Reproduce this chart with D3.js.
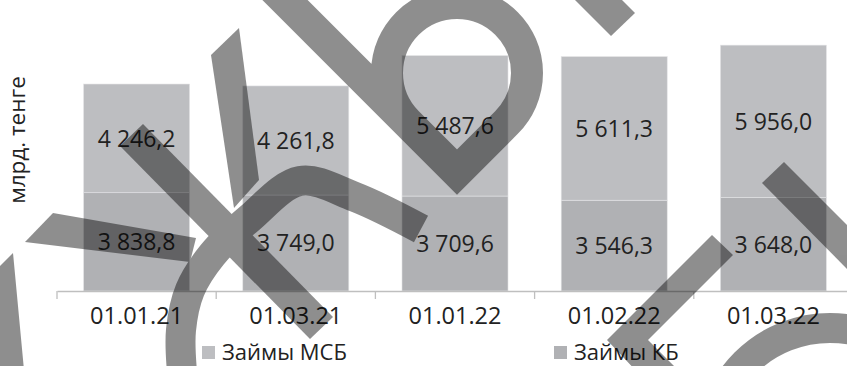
<!DOCTYPE html>
<html>
<head>
<meta charset="utf-8">
<script src="https://cdn.jsdelivr.net/npm/d3@7"></script>
<style>
  html, body { margin: 0; padding: 0; background: #fff; }
  svg { display: block; font-family: "Open Sans", "Noto Sans", sans-serif; }
</style>
</head>
<body>
<svg id="chart" width="847" height="366"></svg>
<script>
// Loan portfolio by reporting date, bn tenge
const categories = ["01.01.21", "01.03.21", "01.01.22", "01.02.22", "01.03.22"];
const kbLoans  = [3838.8, 3749.0, 3709.6, 3546.3, 3648.0];   // lower segment
const smeLoans = [4246.2, 4261.8, 5487.6, 5611.3, 5956.0];   // upper segment
const seriesLabels = ["Займы МСБ", "Займы КБ"];
const yAxisTitle = "млрд. тенге";

const svg = d3.select("#chart");

const colors = { sme: "#bdbec1", kb: "#b0b1b4" };
const textColor = "#222";

const rows = categories.map((c, i) => ({ cat: c, kb: kbLoans[i], sme: smeLoans[i] }));
const layers = d3.stack().keys(["kb", "sme"])(rows);

const x = d3.scaleBand().domain(categories).range([57, 853])
  .paddingInner(0.334).paddingOuter(0.167);
const y = d3.scaleLinear().domain([0, 10000]).range([291, 35]);

const ru = d3.formatLocale({ decimal: ",", thousands: "\u00a0", grouping: [3], currency: ["", ""] });
const fmt = ru.format(",.1f");

// stacked columns
const gBars = svg.append("g");
layers.forEach(layer => {
  gBars.selectAll(null).data(layer).enter().append("rect")
    .attr("x", d => x(d.data.cat))
    .attr("width", x.bandwidth())
    .attr("y", d => y(d[1]))
    .attr("height", d => y(d[0]) - y(d[1]))
    .attr("fill", colors[layer.key])
    .attr("stroke", "#e4e4e6")
    .attr("stroke-width", 0.6);
});

// value labels centred in each segment
layers.forEach(layer => {
  svg.append("g").selectAll("text").data(layer).enter().append("text")
    .attr("x", d => x(d.data.cat) + x.bandwidth() / 2)
    .attr("y", d => (y(d[0]) + y(d[1])) / 2)
    .attr("dy", "0.36em")
    .attr("text-anchor", "middle")
    .attr("font-size", 23)
    .attr("fill", textColor)
    .text(d => fmt(d[1] - d[0]));
});

// category axis
const xAxis = d3.axisBottom(x).tickSize(0).tickPadding(16);
const gx = svg.append("g").attr("transform", `translate(0,${y(0)})`).call(xAxis);
gx.select(".domain").attr("stroke", "#bfbfbf").attr("stroke-width", 1.3);
gx.selectAll(".tick text").attr("font-size", 23.5).attr("fill", textColor)
  .attr("font-family", "'Open Sans', 'Noto Sans', sans-serif");
// tick marks sit on the category boundaries
const bounds = categories.map(c => x(c) - x.step() * x.paddingInner() / 2)
  .concat([x(categories[categories.length - 1]) + x.bandwidth() + x.step() * x.paddingInner() / 2]);
gx.selectAll("line.bound").data(bounds).enter().append("line")
  .attr("class", "bound")
  .attr("x1", d => d).attr("x2", d => d)
  .attr("y1", 0).attr("y2", 8)
  .attr("stroke", "#bfbfbf").attr("stroke-width", 1.3);

// y axis title
svg.append("text")
  .attr("transform", "translate(25,140) rotate(-90)")
  .attr("text-anchor", "middle")
  .attr("font-size", 22.5)
  .attr("fill", textColor)
  .text(yAxisTitle);

// legend
const legendItems = [
  { label: seriesLabels[0], color: colors.sme, x: 202 },
  { label: seriesLabels[1], color: colors.kb, x: 554 }
];
const gl = svg.append("g");
legendItems.forEach(it => {
  gl.append("rect").attr("x", it.x).attr("y", 346).attr("width", 13).attr("height", 13)
    .attr("fill", it.color);
  gl.append("text").attr("x", it.x + 20).attr("y", 359.5)
    .attr("font-size", 22).attr("fill", textColor).text(it.label);
});

// translucent logo overlay drawn across the chart
const wm = svg.append("g").attr("opacity", 0.44);
const poly = pts => "M" + pts.map(p => p.join(",")).join("L") + "Z";
const shapes = [
  [[211,55],[239,28],[259,180],[234,208]],                     // stem
  [[143,124],[333,317],[310,339],[120,146]],                   // long diagonal
  [[53,213],[196,238],[190,262],[25,242]],                     // left bar
  [[13,253],[24,370],[-5,370],[-5,271]],                       // left edge stroke
  [[563,-12],[611,36],[635,13],[610,-12]],                     // top short stroke
  [[762,183],[784,162],[880,258],[858,280]],                   // right diagonal
  [[712,235],[733,255],[648,340],[683,375],[640,375],[607,340]] // chevron
];
shapes.forEach(s => wm.append("path").attr("d", poly(s)).attr("fill", "#000"));

// S-shaped curve
const sCurve = [[182,372],[181,330],[190,290],[212,255],[250,218],[300,181],[355,197],[421,229]];
wm.append("path")
  .attr("d", d3.line().curve(d3.curveCatmullRom)(sCurve))
  .attr("fill", "none").attr("stroke", "#000").attr("stroke-width", 30);

// teardrop loop with long tail
wm.append("path")
  .attr("d", "M245,-40 L457,172 L506.5,122.5 A70,70 0 1 0 407.5,122.5")
  .attr("fill", "none").attr("stroke", "#000").attr("stroke-width", 32)
  .attr("stroke-linejoin", "miter");

// lower right ring
wm.append("circle").attr("cx", 830).attr("cy", 448).attr("r", 120)
  .attr("fill", "none").attr("stroke", "#000").attr("stroke-width", 30);
</script>
</body>
</html>
